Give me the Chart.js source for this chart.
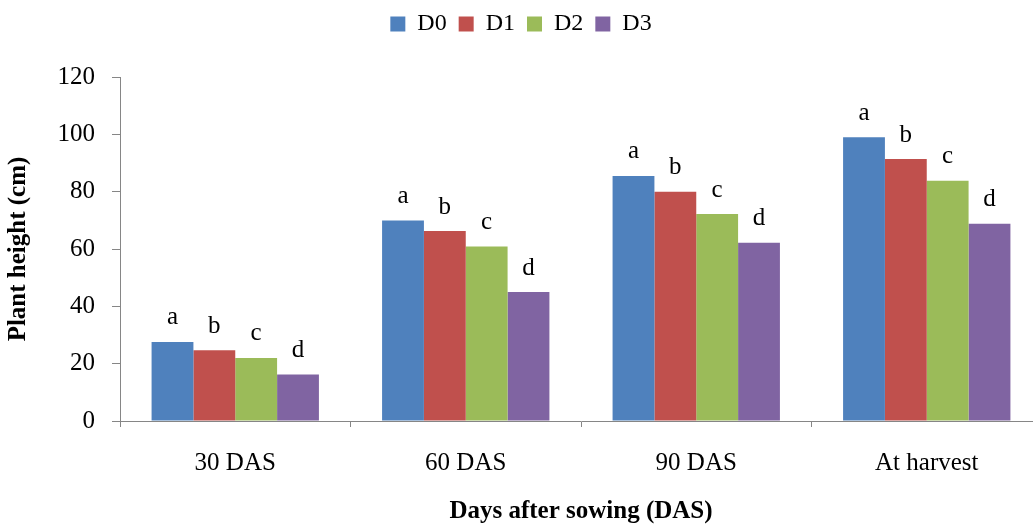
<!DOCTYPE html>
<html>
<head>
<meta charset="utf-8">
<title>Plant height</title>
<script src="https://cdn.jsdelivr.net/npm/chart.js@4/dist/chart.umd.min.js"></script>
<style>
  html, body { margin: 0; padding: 0; background: #fff; overflow: hidden; }
  #wrap { position: relative; width: 1042px; height: 524px; }
</style>
</head>
<body>
<div id="wrap"><canvas id="heightChart"></canvas></div>
<script>
// growth stages
const stages = ["30 DAS", "60 DAS", "90 DAS", "At harvest"];

// plant height (cm) per treatment
const d0Height = [27.6, 69.9, 85.5, 99.0];
const d1Height = [24.7, 66.3, 80.0, 91.4];
const d2Height = [22.0, 60.9, 72.2, 83.8];
const d3Height = [16.2, 45.0, 62.2, 68.8];

// DMRT letters shown over each bar
const d0Letters = ["a", "a", "a", "a"];
const d1Letters = ["b", "b", "b", "b"];
const d2Letters = ["c", "c", "c", "c"];
const d3Letters = ["d", "d", "d", "d"];

const yTicks = [0, 20, 40, 60, 80, 100, 120];

const serif = "'Liberation Serif', 'Times New Roman', serif";
const axisGray = "#868686";

// letters drawn above every bar
const letterPlugin = {
  id: "barLetters",
  afterDatasetsDraw(chart) {
    const ctx = chart.ctx;
    ctx.save();
    ctx.font = "25px " + serif;
    ctx.fillStyle = "#000";
    ctx.textAlign = "center";
    ctx.textBaseline = "middle";
    chart.data.datasets.forEach((ds, i) => {
      const meta = chart.getDatasetMeta(i);
      meta.data.forEach((bar, j) => {
        ctx.fillText(ds.letters[j], bar.x, bar.y - 24);
      });
    });
    ctx.restore();
  }
};

// keeps the legend band a fixed height above the plot
const legendBand = {
  id: "legendBand",
  beforeLayout(chart) {
    const lg = chart.legend;
    if (lg && !lg._bandFit) {
      const fit = lg.fit.bind(lg);
      lg.fit = function () {
        fit();
        this.height = 77;
      };
      lg._bandFit = true;
    }
  }
};

const ctx = document.getElementById("heightChart").getContext("2d");
new Chart(ctx, {
  type: "bar",
  data: {
    labels: stages,
    datasets: [
      { label: "D0", data: d0Height, letters: d0Letters, backgroundColor: "#4F81BD" },
      { label: "D1", data: d1Height, letters: d1Letters, backgroundColor: "#C0504D" },
      { label: "D2", data: d2Height, letters: d2Letters, backgroundColor: "#9BBB59" },
      { label: "D3", data: d3Height, letters: d3Letters, backgroundColor: "#8064A2" }
    ]
  },
  options: {
    responsive: true,
    maintainAspectRatio: false,
    animation: false,
    layout: { padding: 0 },
    datasets: {
      bar: { categoryPercentage: 0.726, barPercentage: 1.0 }
    },
    scales: {
      x: {
        afterFit: (scale) => { scale.height = 103; },
        grid: {
          offset: true,
          drawOnChartArea: false,
          tickLength: 6,
          color: axisGray
        },
        border: { color: axisGray, width: 1 },
        ticks: {
          color: "#000",
          padding: 21,
          font: { family: serif, size: 25 }
        },
        title: {
          display: true,
          text: "Days after sowing (DAS)",
          color: "#000",
          padding: { top: 0, bottom: 0 },
          font: { family: serif, size: 25, weight: "bold", lineHeight: 1 }
        }
      },
      y: {
        min: 0,
        max: 120,
        afterFit: (scale) => { scale.width = 120; },
        afterBuildTicks: (scale) => {
          scale.ticks = yTicks.map((v) => ({ value: v }));
        },
        grid: {
          drawOnChartArea: false,
          tickLength: 8,
          color: axisGray
        },
        border: { color: axisGray, width: 1 },
        ticks: {
          color: "#000",
          padding: 17,
          font: { family: serif, size: 25 }
        },
        title: {
          display: true,
          text: "Plant height (cm)",
          color: "#000",
          padding: { top: 4, bottom: 0 },
          font: { family: serif, size: 25, weight: "bold" }
        }
      }
    },
    plugins: {
      legend: {
        position: "top",
        labels: {
          color: "#000",
          boxWidth: 15,
          boxHeight: 15,
          padding: 12,
          font: { family: serif, size: 24 }
        }
      },
      tooltip: { enabled: false }
    }
  },
  plugins: [letterPlugin, legendBand]
});
</script>
</body>
</html>
